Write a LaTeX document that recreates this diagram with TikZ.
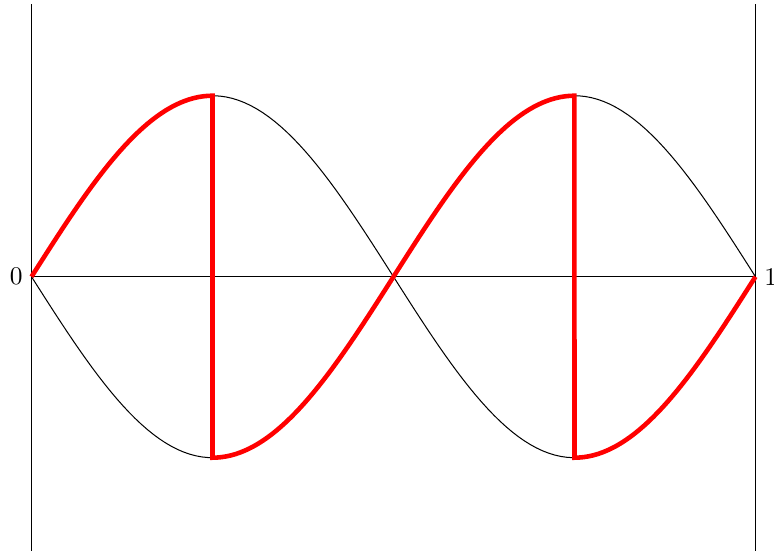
\documentclass[tikz,border=0pt]{standalone}
\usepackage{tikz}
\usetikzlibrary{positioning}

\begin{document}
\begin{tikzpicture}
\def\L{10}
\def\A{2.5}

% Fixed frame of the picture
\useasboundingbox (-0.435,-3.775) rectangle (10.256,3.822);

% Walls and axis
\draw (0,-3.8) -- (0,3.76);
\draw (\L,-3.8) -- (\L,3.76);
\draw (0,0) -- (\L,0);

% End labels
\node[anchor=east] (zero) at (0,0) {0};
\node[anchor=west] (one) at (\L,0) {1};

% Upper and lower sine curves
\draw plot[domain=0:\L, samples=120] (\x,{\A*sin(36*\x)});
\draw plot[domain=0:\L, samples=120] (\x,{-\A*sin(36*\x)});

% Switched path
\draw[red, line width=1.8pt]
  plot[domain=0:2.5, samples=40] (\x,{\A*sin(36*\x)})
  -- (2.5,-\A)
  -- plot[domain=2.5:7.5, samples=80] (\x,{-\A*sin(36*\x)})
  -- (7.5,-\A)
  -- plot[domain=7.5:\L, samples=40] (\x,{\A*sin(36*\x)});

\end{tikzpicture}
\end{document}
